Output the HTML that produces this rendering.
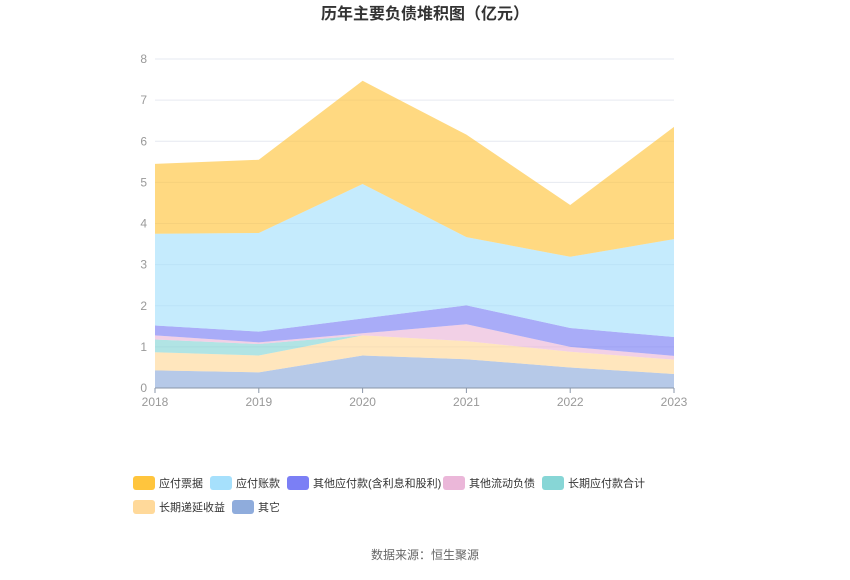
<!DOCTYPE html>
<html><head><meta charset="utf-8"><style>
body{margin:0;background:#fff;}
svg text{font-family:"Liberation Sans","Noto Sans CJK SC",sans-serif;}
</style></head><body>
<svg id="chart" width="850" height="575" xmlns="http://www.w3.org/2000/svg">
<text x="425" y="19" text-anchor="middle" font-size="16" font-weight="bold" fill="#333">历年主要负债堆积图（亿元）</text>
<g id="grid"></g><g id="areas"></g><g id="axes"></g><g id="legend"></g>
<text x="425" y="559" text-anchor="middle" font-size="12" fill="#666">数据来源：恒生聚源</text>
</svg>
<script>
const years=["2018","2019","2020","2021","2022","2023"];
const yTicks=[0,1,2,3,4,5,6,7,8];
const seriesNames=["其它","长期递延收益","长期应付款合计","其他流动负债","其他应付款(含利息和股利)","应付账款","应付票据"];
const sOther=[0.43,0.38,0.79,0.70,0.50,0.34];
const sDeferred=[0.44,0.41,0.49,0.44,0.38,0.35];
const sLongPay=[0.31,0.28,0,0,0,0];
const sOtherCur=[0.10,0.04,0.05,0.41,0.12,0.09];
const sOtherPay=[0.24,0.26,0.36,0.46,0.46,0.46];
const sAccounts=[2.23,2.40,3.27,1.66,1.73,2.38];
const sNotes=[1.70,1.78,2.51,2.49,1.26,2.73];
const seriesData=[sOther,sDeferred,sLongPay,sOtherCur,sOtherPay,sAccounts,sNotes];
const colors=["#8facdc","#ffd99a","#87d6d6","#ebb7d9","#7b7ff5","#a6e0fc","#ffc53d"];
const X0=155,X1=674,Y0=388,Y8=59;
const xs=i=>X0+(X1-X0)*i/(years.length-1);
const ys=v=>Y0-(Y0-Y8)*v/8;
const NS="http://www.w3.org/2000/svg";
function mk(tag,attrs,parent){const e=document.createElementNS(NS,tag);for(const k in attrs)e.setAttribute(k,attrs[k]);parent.appendChild(e);return e;}
const grid=document.getElementById('grid'),areas=document.getElementById('areas'),axes=document.getElementById('axes'),legend=document.getElementById('legend');
yTicks.forEach(t=>{
  if(t>0){const l=mk('line',{x1:X0,x2:X1,y1:ys(t),y2:ys(t),stroke:'#e6e9f0','stroke-width':1},grid);
  
  }
  const tx=mk('text',{x:X0-8,y:ys(t)+4,'text-anchor':'end','font-size':12,fill:'#999'},axes);tx.textContent=t;
  
  
});
let base=years.map(()=>0);
seriesData.forEach((s,k)=>{
  const top=base.map((b,i)=>b+s[i]);
  let d='M'+years.map((y,i)=>xs(i)+','+ys(top[i])).join(' L');
  for(let i=years.length-1;i>=0;i--)d+=' L'+xs(i)+','+ys(base[i]);
  d+=' Z';
  const p=mk('path',{d:d,fill:colors[k],'fill-opacity':0.65,stroke:'none'},areas);
  
  
  base=top;
});
const ax=mk('line',{x1:X0,x2:X1,y1:Y0,y2:Y0,stroke:'#8a96a8','stroke-width':1},axes);


years.forEach((y,i)=>{
  const tk=mk('line',{x1:xs(i),x2:xs(i),y1:Y0,y2:Y0+5,stroke:'#8a96a8'},axes);
  
  
  const t=mk('text',{x:xs(i),y:Y0+18,'text-anchor':'middle','font-size':12,fill:'#999'},axes);t.textContent=y;
  
  
});
const legendOrder=[6,5,4,3,2,1,0];
const lx=[133,210,287,443,542,133,232],ly=[476,476,476,476,476,500,500];
legendOrder.forEach((k,j)=>{
  const g=mk('g',{},legend);
  
  
  mk('rect',{x:lx[j],y:ly[j],width:22,height:14,rx:3,fill:colors[k]},g);
  const t=mk('text',{x:lx[j]+26,y:ly[j]+11,'font-size':11,fill:'#333'},g);t.textContent=seriesNames[k];
});
</script>
</body></html>
